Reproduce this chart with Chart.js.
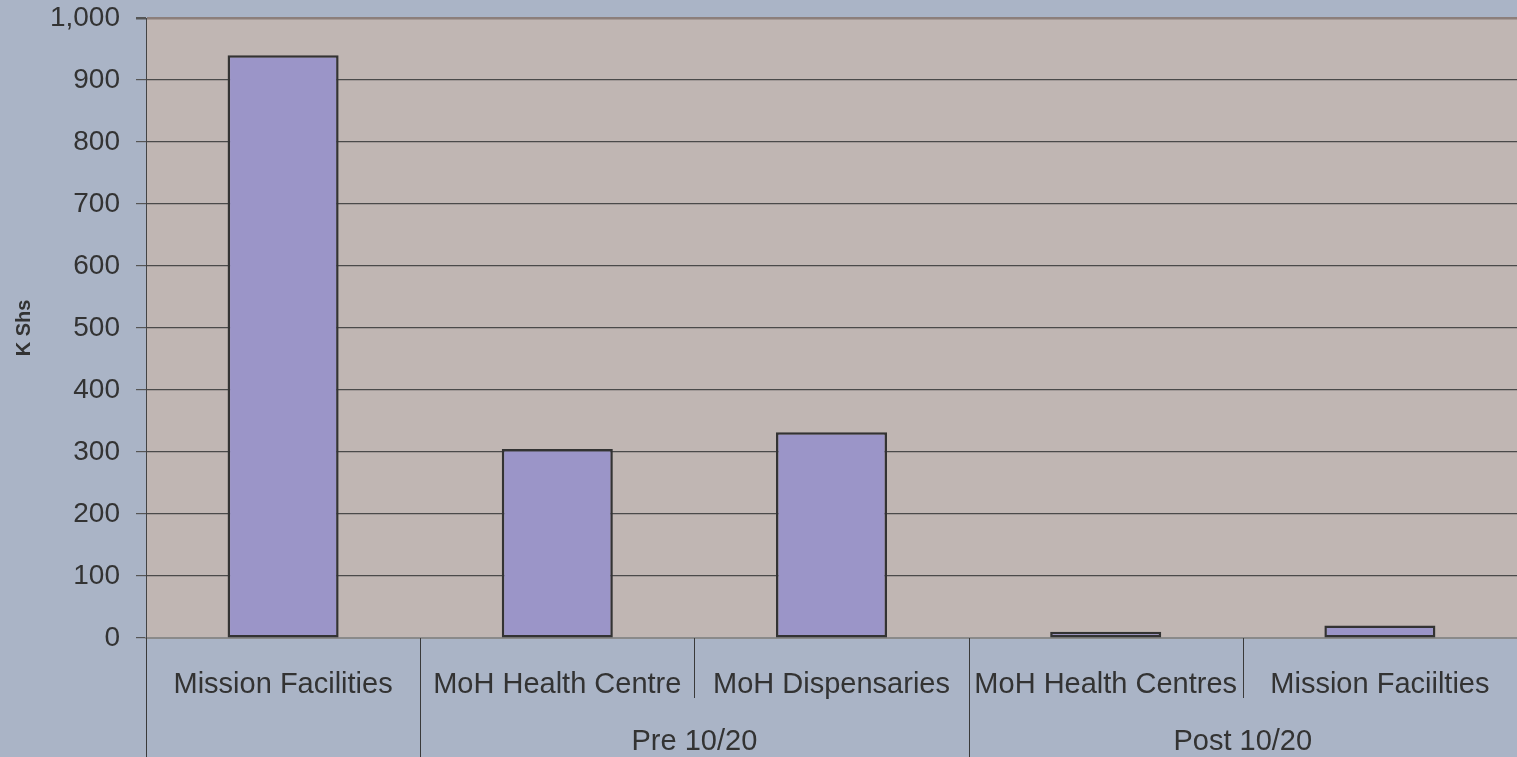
<!DOCTYPE html>
<html>
<head>
<meta charset="utf-8">
<script src="https://cdn.jsdelivr.net/npm/chart.js@4/dist/chart.umd.min.js"></script>
<style>
  html, body { margin: 0; padding: 0; background: #aab4c6; }
  #wrap { width: 1517px; height: 757px; }
</style>
</head>
<body>
<div id="wrap"><canvas id="costChart"></canvas></div>
<script>
const categories = ['Mission Facilities', 'MoH Health Centre', 'MoH Dispensaries', 'MoH Health Centres', 'Mission Faciilties'];
const groupNames = ['', 'Pre 10/20', 'Pre 10/20', 'Post 10/20', 'Post 10/20'];
const costs = [940, 305, 332, 10, 20];
const yMax = 1000;
const yStep = 100;

const FONT = "'Liberation Sans', Arial, sans-serif";
const TEXT = '#333333';

// plot area fill
const plotBg = {
  id: 'plotBg',
  beforeDraw(chart) {
    const { ctx, chartArea: a } = chart;
    ctx.save();
    ctx.fillStyle = '#c0b6b3';
    ctx.fillRect(a.left, a.top, a.right - a.left, a.bottom - a.top);
    ctx.restore();
  }
};

// category dividers and the group row under the labels
const groupAxis = {
  id: 'groupAxis',
  afterDraw(chart) {
    const { ctx } = chart;
    const x = chart.scales.x;
    const n = categories.length;
    const w = (x.right - x.left) / n;
    const bottom = chart.height;
    ctx.save();
    ctx.strokeStyle = '#3a3a3a';
    ctx.lineWidth = 1;
    for (let i = 0; i <= n; i++) {
      const px = Math.round(x.left + i * w) + 0.5;
      // short line between categories that share a group
      const inside = i > 0 && i < n && groupNames[i] !== '' && groupNames[i] === groupNames[i - 1];
      ctx.beginPath();
      ctx.moveTo(px, x.top);
      ctx.lineTo(px, inside ? x.top + 60 : bottom);
      ctx.stroke();
    }
    ctx.fillStyle = TEXT;
    ctx.font = '29px ' + FONT;
    ctx.textAlign = 'center';
    ctx.textBaseline = 'middle';
    let start = 0;
    for (let i = 1; i <= n; i++) {
      if (i === n || groupNames[i] !== groupNames[start]) {
        if (groupNames[start]) {
          const cx = x.left + (start + i) * w / 2;
          ctx.fillText(groupNames[start], cx, x.top + 104);
        }
        start = i;
      }
    }
    ctx.restore();
  }
};

new Chart(document.getElementById('costChart'), {
  type: 'bar',
  data: {
    labels: categories,
    datasets: [{
      label: 'K Shs',
      data: costs,
      backgroundColor: '#9b95c8',
      borderColor: '#333333',
      borderWidth: 2.5,
      borderSkipped: false,
      barPercentage: 0.405,
      categoryPercentage: 1
    }]
  },
  options: {
    responsive: true,
    maintainAspectRatio: false,
    animation: false,
    layout: { padding: { top: 18, right: 0, left: 0, bottom: 0 } },
    plugins: {
      legend: { display: false },
      tooltip: { enabled: false }
    },
    scales: {
      x: {
        grid: { display: false },
        border: { display: true, color: '#8a8a8a', width: 2 },
        ticks: {
          autoSkip: false,
          maxRotation: 0,
          minRotation: 0,
          padding: 22,
          color: TEXT,
          font: { family: FONT, size: 29 }
        },
        afterFit(scale) {
          scale.height = 119;
          scale.paddingLeft = 0;
          scale.paddingRight = 0;
        }
      },
      y: {
        min: 0,
        max: yMax,
        ticks: {
          stepSize: yStep,
          padding: 16,
          color: TEXT,
          font: { family: FONT, size: 28 }
        },
        grid: {
          color: c => c.tick && c.tick.value === yMax ? '#8c7f7b' : '#4a4a4a',
          lineWidth: c => c.tick && c.tick.value === yMax ? 2.5 : 1.2,
          tickColor: '#555555',
          tickLength: 10
        },
        border: { display: true, color: '#444444', width: 1 },
        title: {
          display: true,
          text: 'K Shs',
          color: TEXT,
          padding: { top: 12, bottom: 4 },
          font: { family: FONT, size: 20, weight: 'bold' }
        },
        afterFit(scale) {
          scale.width = 146;
          scale.paddingTop = 0;
          scale.paddingBottom = 0;
        }
      }
    }
  },
  plugins: [plotBg, groupAxis]
});
</script>
</body>
</html>
